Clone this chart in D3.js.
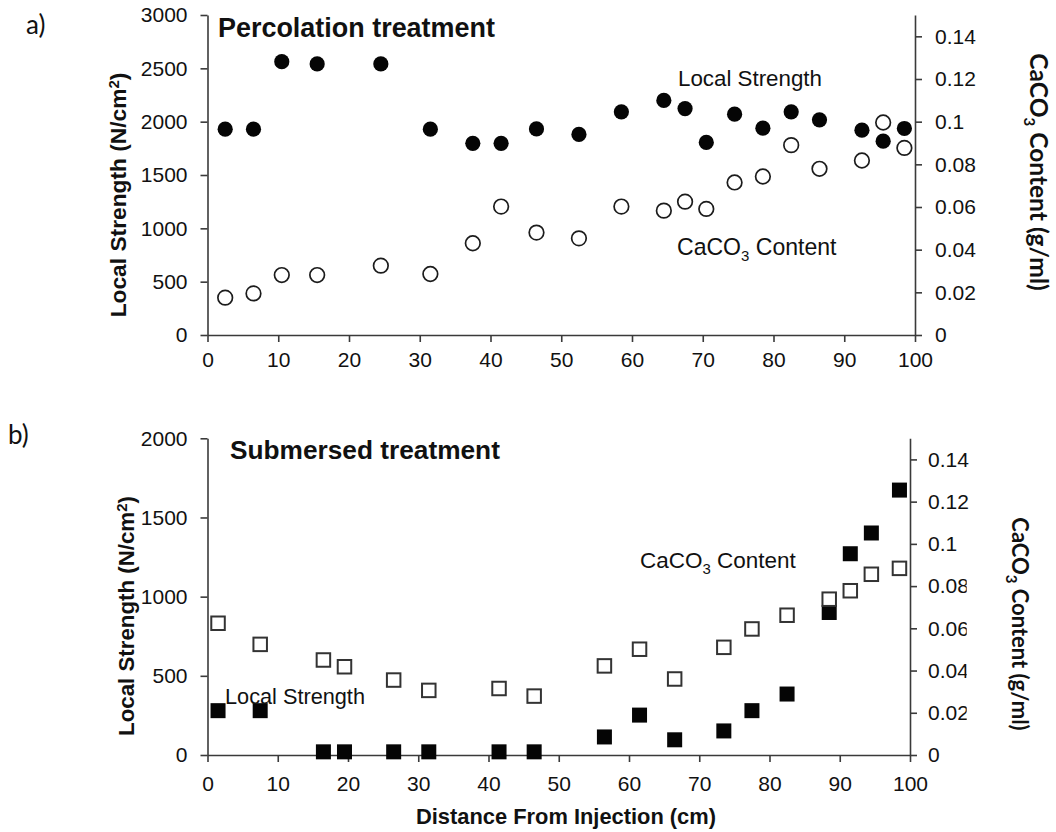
<!DOCTYPE html>
<html>
<head>
<meta charset="utf-8">
<script src="https://cdn.jsdelivr.net/npm/d3@7"></script>
<style>
  html, body { margin: 0; padding: 0; background: #fff; }
  svg { display: block; }
</style>
</head>
<body>
<svg id="chart" width="1056" height="832"></svg>
<script>
// ---- Percolation treatment (panel a) ----
const percDistance = [2.5, 6.5, 10.5, 15.5, 24.5, 31.5, 37.5, 41.5, 46.5, 52.5, 58.5,
                      64.5, 67.5, 70.5, 74.5, 78.5, 82.5, 86.5, 92.5, 95.5, 98.5];
const percStrength = [1930, 1930, 2562, 2541, 2541, 1930, 1797, 1797, 1932, 1880, 2092,
                      2199, 2123, 1805, 2070, 1939, 2092, 2017, 1920, 1817, 1936];
const percCaco3 = [0.0175, 0.0195, 0.0281, 0.0281, 0.0325, 0.0286, 0.0430, 0.0602, 0.0480, 0.0453, 0.0602,
                   0.0583, 0.0625, 0.0591, 0.0715, 0.0743, 0.0890, 0.0779, 0.0818, 0.0996, 0.0877];

// ---- Submersed treatment (panel b) ----
const subDistance = [1.5, 7.5, 16.5, 19.5, 26.5, 31.5, 41.5, 46.5, 56.5,
                     61.5, 66.5, 73.5, 77.5, 82.5, 88.5, 91.5, 94.5, 98.5];
const subStrength = [280, 280, 20, 20, 20, 20, 20, 20, 114,
                     252, 96, 152, 280, 385, 900, 1271, 1402, 1673];
const subCaco3 = [0.0624, 0.0524, 0.0450, 0.0418, 0.0355, 0.0306, 0.0315, 0.0279, 0.0422,
                  0.0501, 0.0360, 0.0510, 0.0597, 0.0662, 0.0738, 0.0778, 0.0856, 0.0884];

// ---- Axis ticks ----
const distanceTicks = [0, 10, 20, 30, 40, 50, 60, 70, 80, 90, 100];
const percStrengthTicks = [0, 500, 1000, 1500, 2000, 2500, 3000];
const subStrengthTicks = [0, 500, 1000, 1500, 2000];
const caco3Ticks = [0, 0.02, 0.04, 0.06, 0.08, 0.1, 0.12, 0.14];

const svg = d3.select("#chart");
const SANS = "'Liberation Sans', Arial, sans-serif";
const ROUND = "Lato, 'Open Sans', sans-serif";
const AXIS_COLOR = "#3a3a3a";

// Scale a text element's font so its rendered length equals `width`.
function fitWidth(sel, width) {
  const node = sel.node();
  const size = parseFloat(sel.attr("font-size"));
  const len = node.getComputedTextLength();
  if (len > 0) sel.attr("font-size", (size * width / len).toFixed(2));
  return sel;
}

function styleAxis(g) {
  g.selectAll("path.domain").attr("stroke", AXIS_COLOR).attr("stroke-width", 1.6);
  g.selectAll(".tick line").attr("stroke", AXIS_COLOR).attr("stroke-width", 1.6);
  g.selectAll(".tick text")
    .attr("fill", "#111")
    .attr("font-family", SANS)
    .attr("font-size", 21);
}

// CaCO3 label with a subscript 3, written as tspans
function caco3Text(g, x, y, size, anchor, family, weight) {
  const t = g.append("text")
    .attr("x", x).attr("y", y)
    .attr("font-family", family)
    .attr("font-weight", weight)
    .attr("font-size", size)
    .attr("fill", "#111")
    .attr("text-anchor", anchor);
  t.append("tspan").text("CaCO");
  t.append("tspan").attr("dy", size * 0.28).attr("font-size", size * 0.68).text("3");
  t.append("tspan").attr("dy", -size * 0.28).text("\u00A0Content");
  return t;
}

function drawPanel(p) {
  const g = svg.append("g");

  const x = d3.scaleLinear().domain([0, 100]).range([p.xLeft, p.xRight]);
  const yL = d3.scaleLinear().domain([0, p.leftMax]).range([p.yBottom, p.yTop]);
  const yR = d3.scaleLinear().domain([0, 0.15]).range([p.yBottom, p.yTop]);

  // axes
  g.append("g")
    .attr("transform", `translate(0,${p.yBottom})`)
    .call(d3.axisBottom(x).tickValues(distanceTicks).tickSizeInner(7).tickSizeOuter(0)
      .tickPadding(p.xPad).tickFormat(d3.format("d")))
    .call(styleAxis);

  g.append("g")
    .attr("transform", `translate(${p.xLeft},0)`)
    .call(d3.axisLeft(yL).tickValues(p.leftTicks).tickSizeInner(7).tickSizeOuter(0)
      .tickPadding(13).tickFormat(d3.format("d")))
    .call(styleAxis);

  g.append("g")
    .attr("transform", `translate(${p.xRight},0)`)
    .call(d3.axisRight(yR).tickValues(caco3Ticks).tickSizeInner(7).tickSizeOuter(0)
      .tickPadding(p.rPad).tickFormat(d => String(+d.toFixed(2))))
    .call(styleAxis);

  // data markers
  const rows = p.distance.map((d, i) => ({ d, s: p.strength[i], c: p.caco3[i] }));
  const marks = g.append("g");

  if (p.marker === "circle") {
    marks.selectAll("circle.caco3").data(rows).join("circle")
      .attr("class", "caco3")
      .attr("cx", r => x(r.d)).attr("cy", r => yR(r.c)).attr("r", 7.3)
      .attr("fill", "#fff").attr("stroke", "#1c1c1c").attr("stroke-width", 1.7);
    marks.selectAll("circle.strength").data(rows).join("circle")
      .attr("class", "strength")
      .attr("cx", r => x(r.d)).attr("cy", r => yL(r.s)).attr("r", 7.6)
      .attr("fill", "#050505");
  } else {
    const side = 15;
    marks.selectAll("rect.strength").data(rows).join("rect")
      .attr("class", "strength")
      .attr("x", r => x(r.d) - side / 2).attr("y", r => yL(r.s) - side / 2)
      .attr("width", side).attr("height", side)
      .attr("fill", "#050505");
    const os = 13.5;
    marks.selectAll("rect.caco3").data(rows).join("rect")
      .attr("class", "caco3")
      .attr("x", r => x(r.d) - os / 2).attr("y", r => yR(r.c) - os / 2)
      .attr("width", os).attr("height", os)
      .attr("fill", "#fff").attr("stroke", "#333").attr("stroke-width", 2);
  }

  // panel letter
  g.append("text").attr("x", p.letterX).attr("y", p.letterY)
    .attr("font-family", ROUND).attr("font-size", 26).attr("fill", "#111")
    .text(p.letter);

  // panel title
  fitWidth(g.append("text").attr("x", p.titleX).attr("y", p.titleY)
    .attr("font-family", SANS).attr("font-weight", "bold").attr("font-size", 26)
    .attr("fill", "#111").text(p.title), p.titleW);

  // series labels
  fitWidth(g.append("text").attr("x", p.lsX).attr("y", p.lsY)
    .attr("font-family", SANS).attr("font-size", 22).attr("fill", "#111")
    .text("Local Strength"), p.lsW);
  fitWidth(caco3Text(g, p.ccX, p.ccY, 22, "start", SANS, "normal"), p.ccW);

  // left axis title
  const lt = g.append("text")
    .attr("transform", `translate(${p.leftTitleX},${p.leftTitleY}) rotate(-90)`)
    .attr("text-anchor", "middle")
    .attr("font-family", SANS).attr("font-weight", "bold").attr("font-size", 22)
    .attr("fill", "#111");
  lt.append("tspan").text("Local Strength (N/cm");
  lt.append("tspan").attr("dy", -7).attr("font-size", 15).text("2");
  lt.append("tspan").attr("dy", 7).text(")");
  fitWidth(lt, p.leftTitleW);

  // right axis title, optionally on an opaque white box
  if (p.titleBox) {
    g.append("rect")
      .attr("x", p.titleBox[0]).attr("y", p.titleBox[1])
      .attr("width", p.titleBox[2]).attr("height", p.titleBox[3])
      .attr("fill", "#fff");
  }
  const rt = g.append("text")
    .attr("transform", `translate(${p.rightTitleX},${p.rightTitleY}) rotate(90)`)
    .attr("text-anchor", "middle")
    .attr("font-family", ROUND).attr("font-weight", "bold").attr("font-size", 26)
    .attr("fill", "#111");
  rt.append("tspan").text("CaCO");
  rt.append("tspan").attr("dy", 6).attr("font-size", 15).text("3");
  rt.append("tspan").attr("dy", -6).text(" Content (g/ml)");
  fitWidth(rt, p.rightTitleW);

  return x;
}

drawPanel({
  key: "a", letter: "a)", letterX: 26, letterY: 34,
  title: "Percolation treatment", titleX: 218, titleY: 37, titleW: 277,
  xLeft: 207.5, xRight: 915, yBottom: 335, yTop: 15,
  leftMax: 3000, leftTicks: percStrengthTicks,
  distance: percDistance, strength: percStrength, caco3: percCaco3,
  marker: "circle", xPad: 10, rPad: 13,
  lsX: 678, lsY: 85.5, lsW: 144,
  ccX: 677, ccY: 255, ccW: 160,
  leftTitleX: 126, leftTitleY: 195, leftTitleW: 245,
  rightTitleX: 1030, rightTitleY: 172, rightTitleW: 237
});

drawPanel({
  key: "b", letter: "b)", letterX: 8, letterY: 444,
  title: "Submersed treatment", titleX: 230, titleY: 459, titleW: 270,
  xLeft: 207.5, xRight: 910, yBottom: 755, yTop: 438.3,
  leftMax: 2000, leftTicks: subStrengthTicks,
  distance: subDistance, strength: subStrength, caco3: subCaco3,
  marker: "square", xPad: 14, rPad: 11,
  titleBox: [966.7, 556, 89, 182],
  lsX: 225, lsY: 704, lsW: 140,
  ccX: 640, ccY: 567.5, ccW: 156,
  leftTitleX: 134, leftTitleY: 616, leftTitleW: 240,
  rightTitleX: 1012, rightTitleY: 624, rightTitleW: 212
});

// shared x-axis title under panel b
fitWidth(svg.append("text")
  .attr("x", 566).attr("y", 824).attr("text-anchor", "middle")
  .attr("font-family", SANS).attr("font-weight", "bold").attr("font-size", 22)
  .attr("fill", "#111").text("Distance From Injection (cm)"), 300);
</script>
</body>
</html>
